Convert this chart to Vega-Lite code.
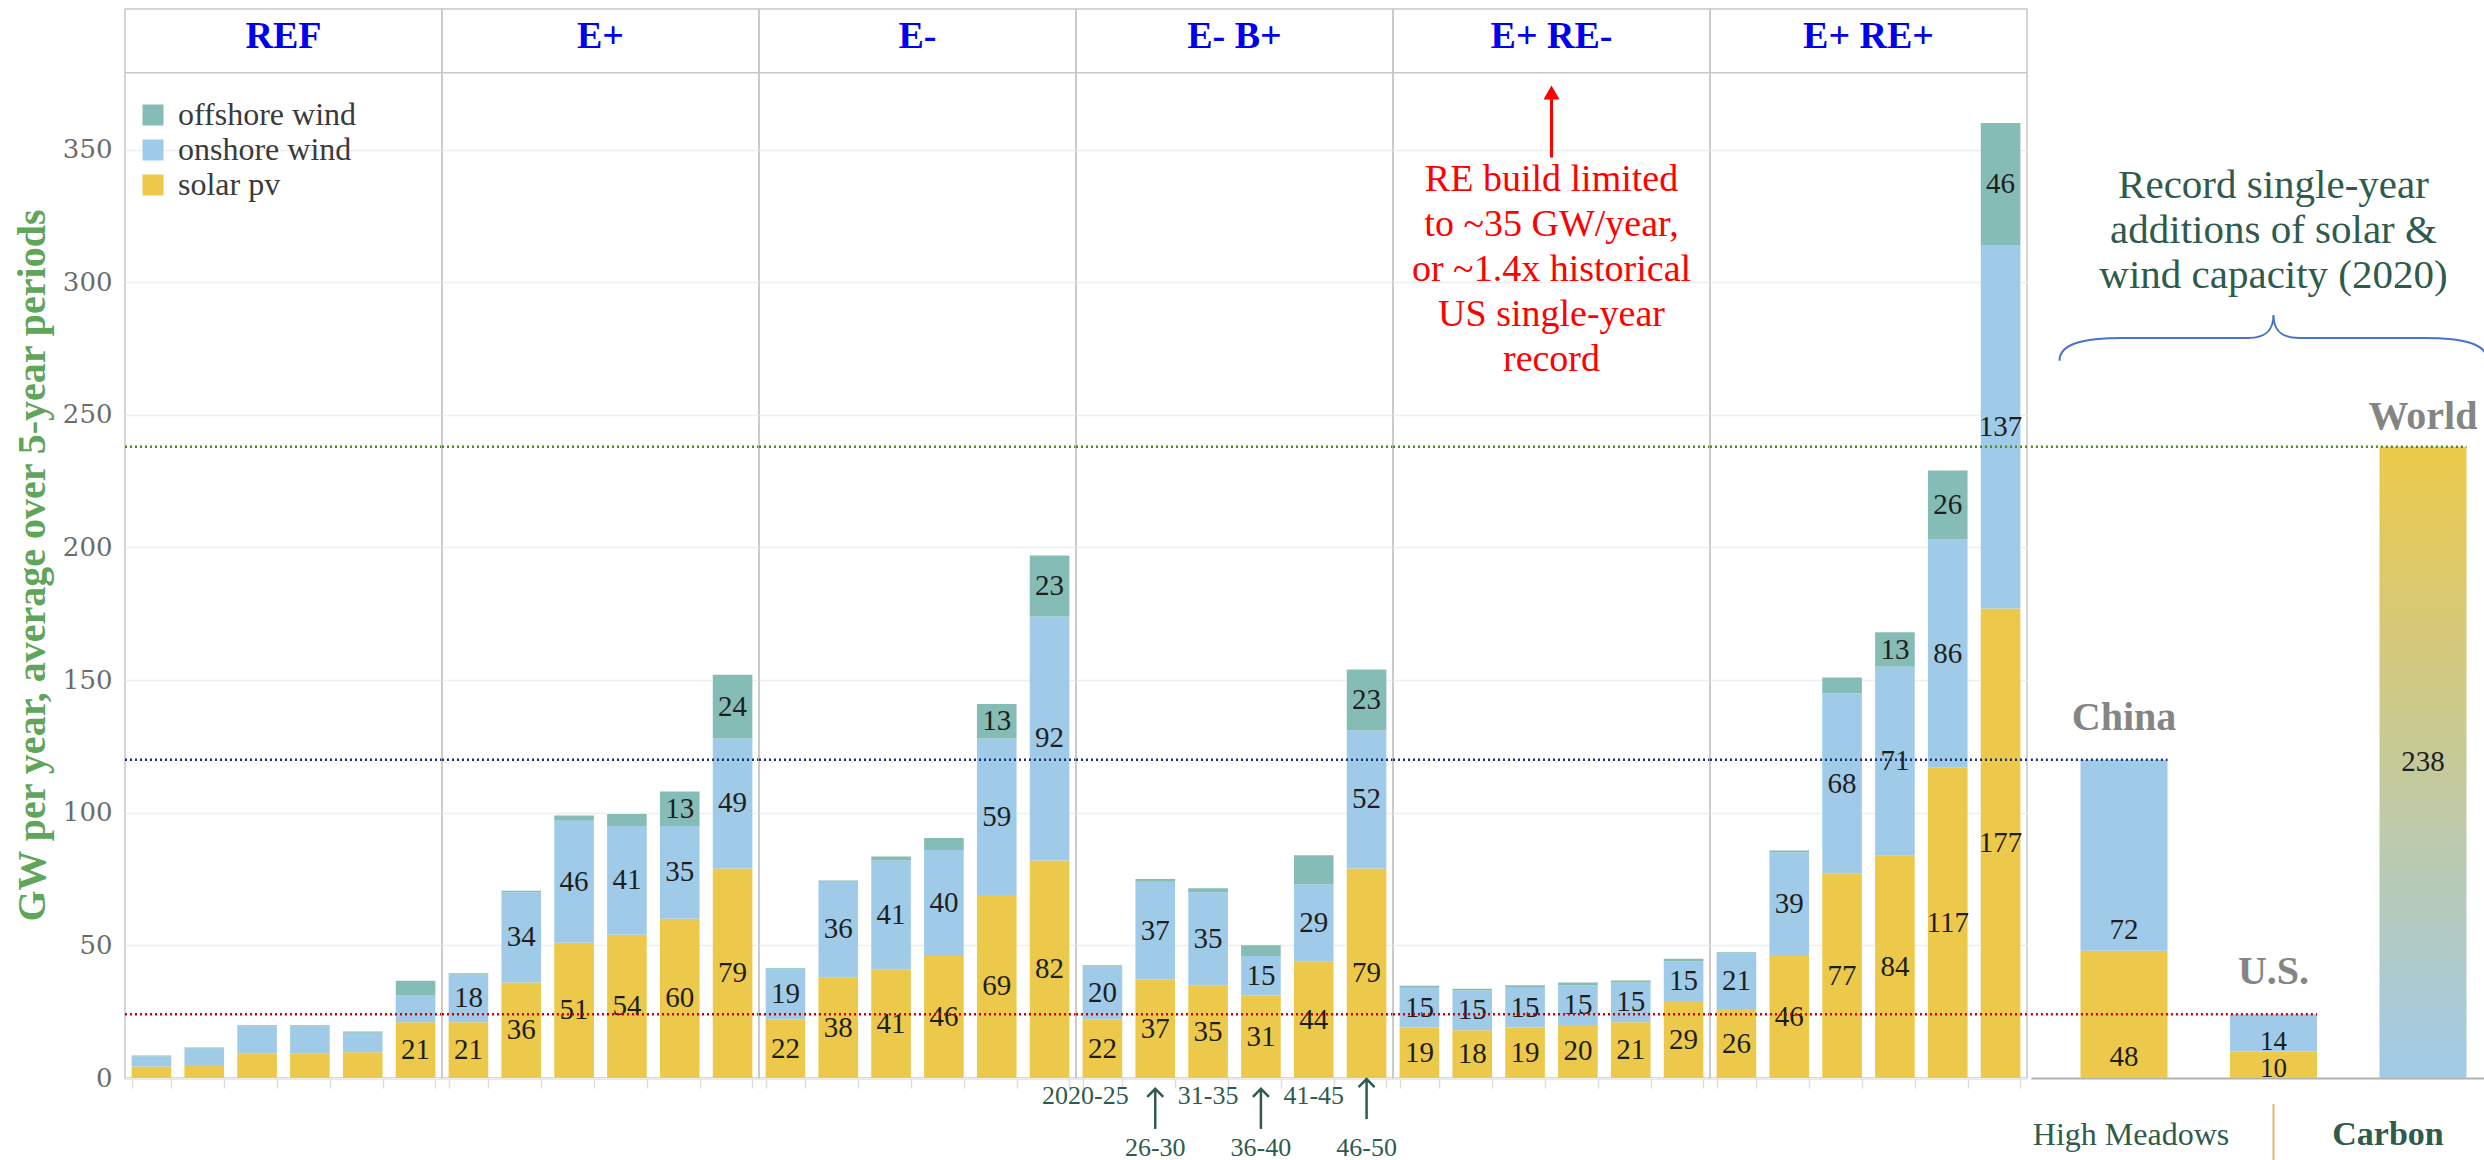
{
  "$schema": "https://vega.github.io/schema/vega-lite/v6.json",
  "padding": {"left": 12, "top": 8, "right": 0, "bottom": 0},
  "background": "white",
  "config": {
    "view": {"stroke": "#c8c8c8", "strokeWidth": 1.5},
    "font": "Liberation Serif",
    "facet": {"spacing": 0},
    "concat": {"spacing": 0}
  },
  "datasets": {
    "bars": [
      {"scenario": "REF", "period": "2020-25", "tech": "solar pv", "value": 4.3},
      {"scenario": "REF", "period": "2020-25", "tech": "onshore wind", "value": 3.9},
      {"scenario": "REF", "period": "2020-25", "tech": "offshore wind", "value": 0.3},
      {"scenario": "REF", "period": "26-30", "tech": "solar pv", "value": 4.9},
      {"scenario": "REF", "period": "26-30", "tech": "onshore wind", "value": 6.2},
      {"scenario": "REF", "period": "26-30", "tech": "offshore wind", "value": 0.4},
      {"scenario": "REF", "period": "31-35", "tech": "solar pv", "value": 9.1},
      {"scenario": "REF", "period": "31-35", "tech": "onshore wind", "value": 10.4},
      {"scenario": "REF", "period": "31-35", "tech": "offshore wind", "value": 0.4},
      {"scenario": "REF", "period": "36-40", "tech": "solar pv", "value": 9.1},
      {"scenario": "REF", "period": "36-40", "tech": "onshore wind", "value": 10.4},
      {"scenario": "REF", "period": "36-40", "tech": "offshore wind", "value": 0.4},
      {"scenario": "REF", "period": "41-45", "tech": "solar pv", "value": 9.7},
      {"scenario": "REF", "period": "41-45", "tech": "onshore wind", "value": 7.4},
      {"scenario": "REF", "period": "41-45", "tech": "offshore wind", "value": 0.4},
      {"scenario": "REF", "period": "46-50", "tech": "solar pv", "value": 21},
      {"scenario": "REF", "period": "46-50", "tech": "onshore wind", "value": 10.3},
      {"scenario": "REF", "period": "46-50", "tech": "offshore wind", "value": 5.4},

      {"scenario": "E+", "period": "2020-25", "tech": "solar pv", "value": 21},
      {"scenario": "E+", "period": "2020-25", "tech": "onshore wind", "value": 18},
      {"scenario": "E+", "period": "2020-25", "tech": "offshore wind", "value": 0.5},
      {"scenario": "E+", "period": "26-30", "tech": "solar pv", "value": 36},
      {"scenario": "E+", "period": "26-30", "tech": "onshore wind", "value": 34},
      {"scenario": "E+", "period": "26-30", "tech": "offshore wind", "value": 0.6},
      {"scenario": "E+", "period": "31-35", "tech": "solar pv", "value": 51},
      {"scenario": "E+", "period": "31-35", "tech": "onshore wind", "value": 46},
      {"scenario": "E+", "period": "31-35", "tech": "offshore wind", "value": 2},
      {"scenario": "E+", "period": "36-40", "tech": "solar pv", "value": 54},
      {"scenario": "E+", "period": "36-40", "tech": "onshore wind", "value": 41},
      {"scenario": "E+", "period": "36-40", "tech": "offshore wind", "value": 4.5},
      {"scenario": "E+", "period": "41-45", "tech": "solar pv", "value": 60},
      {"scenario": "E+", "period": "41-45", "tech": "onshore wind", "value": 35},
      {"scenario": "E+", "period": "41-45", "tech": "offshore wind", "value": 13},
      {"scenario": "E+", "period": "46-50", "tech": "solar pv", "value": 79},
      {"scenario": "E+", "period": "46-50", "tech": "onshore wind", "value": 49},
      {"scenario": "E+", "period": "46-50", "tech": "offshore wind", "value": 24},

      {"scenario": "E-", "period": "2020-25", "tech": "solar pv", "value": 22},
      {"scenario": "E-", "period": "2020-25", "tech": "onshore wind", "value": 19},
      {"scenario": "E-", "period": "2020-25", "tech": "offshore wind", "value": 0.4},
      {"scenario": "E-", "period": "26-30", "tech": "solar pv", "value": 38},
      {"scenario": "E-", "period": "26-30", "tech": "onshore wind", "value": 36},
      {"scenario": "E-", "period": "26-30", "tech": "offshore wind", "value": 0.5},
      {"scenario": "E-", "period": "31-35", "tech": "solar pv", "value": 41},
      {"scenario": "E-", "period": "31-35", "tech": "onshore wind", "value": 41},
      {"scenario": "E-", "period": "31-35", "tech": "offshore wind", "value": 1.5},
      {"scenario": "E-", "period": "36-40", "tech": "solar pv", "value": 46},
      {"scenario": "E-", "period": "36-40", "tech": "onshore wind", "value": 40},
      {"scenario": "E-", "period": "36-40", "tech": "offshore wind", "value": 4.5},
      {"scenario": "E-", "period": "41-45", "tech": "solar pv", "value": 69},
      {"scenario": "E-", "period": "41-45", "tech": "onshore wind", "value": 59},
      {"scenario": "E-", "period": "41-45", "tech": "offshore wind", "value": 13},
      {"scenario": "E-", "period": "46-50", "tech": "solar pv", "value": 82},
      {"scenario": "E-", "period": "46-50", "tech": "onshore wind", "value": 92},
      {"scenario": "E-", "period": "46-50", "tech": "offshore wind", "value": 23},

      {"scenario": "E- B+", "period": "2020-25", "tech": "solar pv", "value": 22},
      {"scenario": "E- B+", "period": "2020-25", "tech": "onshore wind", "value": 20},
      {"scenario": "E- B+", "period": "2020-25", "tech": "offshore wind", "value": 0.5},
      {"scenario": "E- B+", "period": "26-30", "tech": "solar pv", "value": 37},
      {"scenario": "E- B+", "period": "26-30", "tech": "onshore wind", "value": 37},
      {"scenario": "E- B+", "period": "26-30", "tech": "offshore wind", "value": 1},
      {"scenario": "E- B+", "period": "31-35", "tech": "solar pv", "value": 35},
      {"scenario": "E- B+", "period": "31-35", "tech": "onshore wind", "value": 35},
      {"scenario": "E- B+", "period": "31-35", "tech": "offshore wind", "value": 1.5},
      {"scenario": "E- B+", "period": "36-40", "tech": "solar pv", "value": 31},
      {"scenario": "E- B+", "period": "36-40", "tech": "onshore wind", "value": 15},
      {"scenario": "E- B+", "period": "36-40", "tech": "offshore wind", "value": 4},
      {"scenario": "E- B+", "period": "41-45", "tech": "solar pv", "value": 44},
      {"scenario": "E- B+", "period": "41-45", "tech": "onshore wind", "value": 29},
      {"scenario": "E- B+", "period": "41-45", "tech": "offshore wind", "value": 11},
      {"scenario": "E- B+", "period": "46-50", "tech": "solar pv", "value": 79},
      {"scenario": "E- B+", "period": "46-50", "tech": "onshore wind", "value": 52},
      {"scenario": "E- B+", "period": "46-50", "tech": "offshore wind", "value": 23},

      {"scenario": "E+ RE-", "period": "2020-25", "tech": "solar pv", "value": 19},
      {"scenario": "E+ RE-", "period": "2020-25", "tech": "onshore wind", "value": 15},
      {"scenario": "E+ RE-", "period": "2020-25", "tech": "offshore wind", "value": 0.8},
      {"scenario": "E+ RE-", "period": "26-30", "tech": "solar pv", "value": 18},
      {"scenario": "E+ RE-", "period": "26-30", "tech": "onshore wind", "value": 15},
      {"scenario": "E+ RE-", "period": "26-30", "tech": "offshore wind", "value": 0.6},
      {"scenario": "E+ RE-", "period": "31-35", "tech": "solar pv", "value": 19},
      {"scenario": "E+ RE-", "period": "31-35", "tech": "onshore wind", "value": 15},
      {"scenario": "E+ RE-", "period": "31-35", "tech": "offshore wind", "value": 1},
      {"scenario": "E+ RE-", "period": "36-40", "tech": "solar pv", "value": 20},
      {"scenario": "E+ RE-", "period": "36-40", "tech": "onshore wind", "value": 15},
      {"scenario": "E+ RE-", "period": "36-40", "tech": "offshore wind", "value": 1},
      {"scenario": "E+ RE-", "period": "41-45", "tech": "solar pv", "value": 21},
      {"scenario": "E+ RE-", "period": "41-45", "tech": "onshore wind", "value": 15},
      {"scenario": "E+ RE-", "period": "41-45", "tech": "offshore wind", "value": 0.8},
      {"scenario": "E+ RE-", "period": "46-50", "tech": "solar pv", "value": 29},
      {"scenario": "E+ RE-", "period": "46-50", "tech": "onshore wind", "value": 15},
      {"scenario": "E+ RE-", "period": "46-50", "tech": "offshore wind", "value": 1},

      {"scenario": "E+ RE+", "period": "2020-25", "tech": "solar pv", "value": 26},
      {"scenario": "E+ RE+", "period": "2020-25", "tech": "onshore wind", "value": 21},
      {"scenario": "E+ RE+", "period": "2020-25", "tech": "offshore wind", "value": 0.4},
      {"scenario": "E+ RE+", "period": "26-30", "tech": "solar pv", "value": 46},
      {"scenario": "E+ RE+", "period": "26-30", "tech": "onshore wind", "value": 39},
      {"scenario": "E+ RE+", "period": "26-30", "tech": "offshore wind", "value": 0.8},
      {"scenario": "E+ RE+", "period": "31-35", "tech": "solar pv", "value": 77},
      {"scenario": "E+ RE+", "period": "31-35", "tech": "onshore wind", "value": 68},
      {"scenario": "E+ RE+", "period": "31-35", "tech": "offshore wind", "value": 6},
      {"scenario": "E+ RE+", "period": "36-40", "tech": "solar pv", "value": 84},
      {"scenario": "E+ RE+", "period": "36-40", "tech": "onshore wind", "value": 71},
      {"scenario": "E+ RE+", "period": "36-40", "tech": "offshore wind", "value": 13},
      {"scenario": "E+ RE+", "period": "41-45", "tech": "solar pv", "value": 117},
      {"scenario": "E+ RE+", "period": "41-45", "tech": "onshore wind", "value": 86},
      {"scenario": "E+ RE+", "period": "41-45", "tech": "offshore wind", "value": 26},
      {"scenario": "E+ RE+", "period": "46-50", "tech": "solar pv", "value": 177},
      {"scenario": "E+ RE+", "period": "46-50", "tech": "onshore wind", "value": 137},
      {"scenario": "E+ RE+", "period": "46-50", "tech": "offshore wind", "value": 46}
    ],
    "records": [
      {"region": "China", "tech": "solar pv", "value": 48},
      {"region": "China", "tech": "onshore wind", "value": 72},
      {"region": "U.S.", "tech": "solar pv", "value": 10},
      {"region": "U.S.", "tech": "onshore wind", "value": 14},
      {"region": "World", "tech": "solar & wind", "value": 238}
    ],
    "refs": [
      {"region": "China", "total": 120},
      {"region": "U.S.", "total": 24},
      {"region": "World", "total": 238}
    ]
  },
  "hconcat": [
    {
      "data": {"name": "bars"},
      "transform": [
        {"stack": "value", "groupby": ["scenario", "period"], "sort": [{"field": "tech", "order": "descending"}], "as": ["y0", "y1"]},
        {"calculate": "(datum.y0 + datum.y1) / 2", "as": "mid"}
      ],
      "facet": {
        "column": {
          "field": "scenario", "type": "nominal",
          "sort": ["REF", "E+", "E-", "E- B+", "E+ RE-", "E+ RE+"],
          "header": {"labels": false, "title": null}
        }
      },
      "spacing": 0,
      "bounds": "flush",
      "spec": {
        "width": 317,
        "height": 1069,
        "layer": [
          {
            "mark": {"type": "bar"},
            "encoding": {
              "x": {
                "field": "period", "type": "nominal",
                "sort": ["2020-25", "26-30", "31-35", "36-40", "41-45", "46-50"],
                "scale": {"paddingInner": 0.25, "paddingOuter": 0.125},
                "axis": {"title": null, "labels": false, "tickBand": "extent", "tickSize": 10, "tickColor": "#dddddd", "tickWidth": 1.5, "domainColor": "#cccccc", "domainWidth": 2, "grid": false}
              },
              "y": {
                "field": "y0", "type": "quantitative",
                "scale": {"domain": [0, 403], "nice": false},
                "axis": {
                  "values": [0, 50, 100, 150, 200, 250, 300, 350],
                  "title": "GW per year, average over 5-year periods",
                  "titleColor": "#5fa55a", "titleFont": "Liberation Serif", "titleFontSize": 40, "titleFontWeight": "bold", "titlePadding": 10, "titleY": 556,
                  "labelFont": "DejaVu Serif", "labelFontSize": 26, "labelColor": "#6b6b6b", "labelPadding": 13,
                  "ticks": false, "domain": false, "grid": true, "gridColor": "#eeeeee", "gridWidth": 1.5
                }
              },
              "y2": {"field": "y1"},
              "color": {
                "field": "tech", "type": "nominal",
                "scale": {"domain": ["offshore wind", "onshore wind", "solar pv"], "range": ["#86bcb6", "#a0cbe8", "#ecc94a"]},
                "legend": {
                  "orient": "none", "legendX": 12, "legendY": 90, "title": null, "padding": 0,
                  "symbolType": "square", "symbolSize": 441, "symbolStrokeWidth": 0,
                  "labelFont": "Liberation Serif", "labelFontSize": 32, "labelColor": "#3a3a3a", "labelOffset": 9, "labelLimit": 0, "rowPadding": 3
                }
              }
            }
          },
          {
            "transform": [{"filter": "datum.value >= 12.5"}],
            "mark": {"type": "text", "font": "Liberation Serif", "fontSize": 29, "color": "#1e1e1e", "baseline": "middle"},
            "encoding": {
              "x": {"field": "period", "type": "nominal", "sort": ["2020-25", "26-30", "31-35", "36-40", "41-45", "46-50"]},
              "y": {"field": "mid", "type": "quantitative"},
              "text": {"field": "value", "type": "quantitative", "format": "d"}
            }
          },
          {
            "transform": [{"filter": "datum.period == '36-40' && datum.tech == 'solar pv'"}],
            "mark": {"type": "text", "font": "Liberation Serif", "fontSize": 38, "fontWeight": "bold", "color": "#0000ee", "baseline": "middle"},
            "encoding": {
              "x": {"field": "period", "type": "nominal", "sort": ["2020-25", "26-30", "31-35", "36-40", "41-45", "46-50"], "bandPosition": -0.1667},
              "y": {"datum": 392.5},
              "text": {"field": "scenario", "type": "nominal"}
            }
          },
          {
            "transform": [{"filter": "datum.period == '36-40' && datum.tech == 'solar pv'"}],
            "mark": {"type": "rule", "color": "#c8c8c8", "strokeWidth": 1.5},
            "encoding": {"y": {"datum": 379}}
          },
          {
            "transform": [{"filter": "datum.period == '36-40' && datum.tech == 'solar pv'"}],
            "mark": {"type": "rule", "color": "#d40000", "strokeWidth": 2.5, "strokeDash": [2, 3]},
            "encoding": {"y": {"datum": 24}}
          },
          {
            "transform": [{"filter": "datum.period == '36-40' && datum.tech == 'solar pv'"}],
            "mark": {"type": "rule", "color": "#1b2f6e", "strokeWidth": 2.5, "strokeDash": [2, 3]},
            "encoding": {"y": {"datum": 120}}
          },
          {
            "transform": [{"filter": "datum.period == '36-40' && datum.tech == 'solar pv'"}],
            "mark": {"type": "rule", "color": "#4e8a22", "strokeWidth": 2.5, "strokeDash": [2, 3]},
            "encoding": {"y": {"datum": 238}}
          },
          {
            "transform": [{"filter": "datum.scenario == 'E+ RE-' && datum.period == '36-40' && datum.tech == 'solar pv'"}],
            "mark": {"type": "text", "font": "Liberation Serif", "fontSize": 38, "lineHeight": 45, "color": "#ff0000", "baseline": "middle"},
            "encoding": {
              "x": {"field": "period", "type": "nominal", "sort": ["2020-25", "26-30", "31-35", "36-40", "41-45", "46-50"], "bandPosition": -0.1667},
              "y": {"datum": 338.5},
              "text": {"value": ["RE build limited", "to ~35 GW/year,", "or ~1.4x historical", "US single-year", "record"]}
            }
          },
          {
            "transform": [{"filter": "datum.scenario == 'E+ RE-' && datum.period == '36-40' && datum.tech == 'solar pv'"}],
            "mark": {"type": "rule", "color": "#ff0000", "strokeWidth": 3},
            "encoding": {
              "x": {"field": "period", "type": "nominal", "sort": ["2020-25", "26-30", "31-35", "36-40", "41-45", "46-50"], "bandPosition": -0.1667},
              "y": {"datum": 347},
              "y2": {"datum": 369}
            }
          },
          {
            "transform": [{"filter": "datum.scenario == 'E+ RE-' && datum.period == '36-40' && datum.tech == 'solar pv'"}],
            "mark": {"type": "point", "shape": "triangle-up", "filled": true, "color": "#ff0000", "size": 260, "opacity": 1},
            "encoding": {
              "x": {"field": "period", "type": "nominal", "sort": ["2020-25", "26-30", "31-35", "36-40", "41-45", "46-50"], "bandPosition": -0.1667},
              "y": {"datum": 371.5}
            }
          },
          {
            "transform": [{"filter": "datum.scenario == 'E- B+' && datum.tech == 'solar pv' && (datum.period == '31-35' || datum.period == '41-45')"}],
            "mark": {"type": "text", "font": "Liberation Serif", "fontSize": 26, "color": "#2f5b4d", "baseline": "middle"},
            "encoding": {
              "x": {"field": "period", "type": "nominal", "sort": ["2020-25", "26-30", "31-35", "36-40", "41-45", "46-50"]},
              "y": {"datum": -6.8},
              "text": {"field": "period", "type": "nominal"}
            }
          },
          {
            "transform": [{"filter": "datum.scenario == 'E- B+' && datum.tech == 'solar pv' && datum.period == '2020-25'"}],
            "mark": {"type": "text", "font": "Liberation Serif", "fontSize": 26, "color": "#2f5b4d", "baseline": "middle", "dx": -17},
            "encoding": {
              "x": {"field": "period", "type": "nominal", "sort": ["2020-25", "26-30", "31-35", "36-40", "41-45", "46-50"]},
              "y": {"datum": -6.8},
              "text": {"field": "period", "type": "nominal"}
            }
          },
          {
            "transform": [{"filter": "datum.scenario == 'E- B+' && datum.tech == 'solar pv' && (datum.period == '26-30' || datum.period == '36-40' || datum.period == '46-50')"}],
            "mark": {"type": "text", "font": "Liberation Serif", "fontSize": 26, "color": "#2f5b4d", "baseline": "middle"},
            "encoding": {
              "x": {"field": "period", "type": "nominal", "sort": ["2020-25", "26-30", "31-35", "36-40", "41-45", "46-50"]},
              "y": {"datum": -26.4},
              "text": {"field": "period", "type": "nominal"}
            }
          },
          {
            "transform": [{"filter": "datum.scenario == 'E- B+' && datum.tech == 'solar pv' && (datum.period == '26-30' || datum.period == '36-40')"}],
            "mark": {"type": "rule", "color": "#2f5b4d", "strokeWidth": 2.5},
            "encoding": {
              "x": {"field": "period", "type": "nominal", "sort": ["2020-25", "26-30", "31-35", "36-40", "41-45", "46-50"]},
              "y": {"datum": -4.3},
              "y2": {"datum": -19.2}
            }
          },
          {
            "transform": [{"filter": "datum.scenario == 'E- B+' && datum.tech == 'solar pv' && (datum.period == '26-30' || datum.period == '36-40')"}],
            "mark": {"type": "point", "shape": "M -1 1 L 0 0 L 1 1", "filled": false, "color": "#2f5b4d", "strokeWidth": 2.5, "size": 256, "opacity": 1},
            "encoding": {
              "x": {"field": "period", "type": "nominal", "sort": ["2020-25", "26-30", "31-35", "36-40", "41-45", "46-50"]},
              "y": {"datum": -4.1}
            }
          },
          {
            "transform": [{"filter": "datum.scenario == 'E- B+' && datum.tech == 'solar pv' && datum.period == '46-50'"}],
            "mark": {"type": "rule", "color": "#2f5b4d", "strokeWidth": 2.5},
            "encoding": {
              "x": {"field": "period", "type": "nominal", "sort": ["2020-25", "26-30", "31-35", "36-40", "41-45", "46-50"]},
              "y": {"datum": -0.6},
              "y2": {"datum": -15.5}
            }
          },
          {
            "transform": [{"filter": "datum.scenario == 'E- B+' && datum.tech == 'solar pv' && datum.period == '46-50'"}],
            "mark": {"type": "point", "shape": "M -1 1 L 0 0 L 1 1", "filled": false, "color": "#2f5b4d", "strokeWidth": 2.5, "size": 256, "opacity": 1},
            "encoding": {
              "x": {"field": "period", "type": "nominal", "sort": ["2020-25", "26-30", "31-35", "36-40", "41-45", "46-50"]},
              "y": {"datum": -0.4}
            }
          }
        ]
      }
    },
    {
      "data": {"name": "records"},
      "transform": [
        {"stack": "value", "groupby": ["region"], "sort": [{"field": "tech", "order": "descending"}], "as": ["y0", "y1"]},
        {"calculate": "(datum.y0 + datum.y1) / 2", "as": "mid"}
      ],
      "width": 457,
      "height": 1069,
      "view": {"stroke": null},
      "encoding": {
        "x": {
          "field": "region", "type": "nominal", "sort": ["China", "U.S.", "World"],
          "scale": {"paddingInner": 0.418, "paddingOuter": 0.2375, "align": 0.697},
          "axis": {"title": null, "labels": false, "ticks": false, "domainColor": "#b0b0b0", "domainWidth": 2, "grid": false}
        }
      },
      "layer": [
        {
          "transform": [{"filter": "datum.tech == 'solar pv'"}],
          "mark": {"type": "bar", "color": "#ecc94a"},
          "encoding": {
            "y": {"field": "y0", "type": "quantitative", "scale": {"domain": [0, 403], "nice": false}, "axis": null},
            "y2": {"field": "y1"}
          }
        },
        {
          "transform": [{"filter": "datum.tech == 'onshore wind'"}],
          "mark": {"type": "bar", "color": "#a0cbe8"},
          "encoding": {
            "y": {"field": "y0", "type": "quantitative"},
            "y2": {"field": "y1"}
          }
        },
        {
          "transform": [{"filter": "datum.region == 'World'"}],
          "mark": {
            "type": "bar",
            "color": {"gradient": "linear", "x1": 0, "y1": 0, "x2": 0, "y2": 1, "stops": [{"offset": 0, "color": "#ecc94a"}, {"offset": 1, "color": "#a0cbe8"}]}
          },
          "encoding": {
            "y": {"field": "y0", "type": "quantitative"},
            "y2": {"field": "y1"}
          }
        },
        {
          "transform": [{"filter": "datum.region == 'China'"}],
          "mark": {"type": "text", "font": "Liberation Serif", "fontSize": 29, "color": "#1e1e1e", "baseline": "alphabetic", "dy": -12},
          "encoding": {
            "y": {"field": "y0", "type": "quantitative"},
            "text": {"field": "value", "type": "quantitative", "format": "d"}
          }
        },
        {
          "transform": [{"filter": "datum.region == 'U.S.'"}],
          "mark": {"type": "text", "font": "Liberation Serif", "fontSize": 27, "color": "#1e1e1e", "baseline": "alphabetic", "dy": -1},
          "encoding": {
            "y": {"field": "y0", "type": "quantitative"},
            "text": {"field": "value", "type": "quantitative", "format": "d"}
          }
        },
        {
          "transform": [{"filter": "datum.region == 'World'"}],
          "mark": {"type": "text", "font": "Liberation Serif", "fontSize": 29, "color": "#1e1e1e", "baseline": "middle"},
          "encoding": {
            "y": {"field": "mid", "type": "quantitative"},
            "text": {"field": "value", "type": "quantitative", "format": "d"}
          }
        },
        {
          "data": {"name": "refs"},
          "mark": {"type": "rule", "strokeWidth": 2.5, "strokeDash": [2, 3]},
          "encoding": {
            "x": {"datum": "China", "type": "nominal", "bandPosition": -0.57},
            "x2": {"field": "region", "bandPosition": 1},
            "y": {"field": "total", "type": "quantitative"},
            "stroke": {"field": "region", "type": "nominal", "scale": {"domain": ["China", "U.S.", "World"], "range": ["#1b2f6e", "#d40000", "#4e8a22"]}, "legend": null}
          }
        },
        {
          "data": {"name": "refs"},
          "transform": [{"filter": "datum.region != 'World'"}],
          "mark": {"type": "text", "font": "Liberation Serif", "fontSize": 40, "fontWeight": "bold", "color": "#858585", "baseline": "alphabetic", "dy": -30},
          "encoding": {
            "x": {"field": "region", "type": "nominal", "sort": ["China", "U.S.", "World"]},
            "y": {"field": "total", "type": "quantitative"},
            "text": {"field": "region", "type": "nominal"}
          }
        },
        {
          "data": {"name": "refs"},
          "transform": [{"filter": "datum.region == 'World'"}],
          "mark": {"type": "text", "font": "Liberation Serif", "fontSize": 40, "fontWeight": "bold", "color": "#858585", "baseline": "alphabetic", "dy": -18},
          "encoding": {
            "x": {"field": "region", "type": "nominal", "sort": ["China", "U.S.", "World"]},
            "y": {"field": "total", "type": "quantitative"},
            "text": {"field": "region", "type": "nominal"}
          }
        },
        {
          "transform": [{"filter": "datum.region == 'U.S.' && datum.tech == 'solar pv'"}],
          "mark": {"type": "text", "font": "Liberation Serif", "fontSize": 41, "lineHeight": 45, "color": "#2f5b4d", "baseline": "middle"},
          "encoding": {
            "y": {"datum": 336.3},
            "text": {"value": ["Record single-year", "additions of solar &", "wind capacity (2020)"]}
          }
        },
        {
          "transform": [{"filter": "datum.region == 'U.S.' && datum.tech == 'solar pv'"}],
          "mark": {"type": "point", "shape": "M -1 0.107 C -1 0.03 -0.9 0 -0.7 0 L -0.12 0 C -0.03 0 0 -0.04 0 -0.107 C 0 -0.04 0.03 0 0.12 0 L 0.7 0 C 0.9 0 1 0.03 1 0.107", "filled": false, "color": "#4a74c9", "strokeWidth": 2, "size": 183184, "opacity": 1},
          "encoding": {
            "y": {"datum": 279}
          }
        },
        {
          "transform": [{"filter": "datum.region == 'China' && datum.tech == 'solar pv'"}],
          "mark": {"type": "text", "font": "Liberation Serif", "fontSize": 32, "color": "#2f5b4d", "baseline": "middle", "align": "left", "dx": 1},
          "encoding": {
            "x": {"datum": "China", "type": "nominal", "bandPosition": -0.56},
            "y": {"datum": -21.5},
            "text": {"value": "High Meadows"}
          }
        },
        {
          "transform": [{"filter": "datum.region == 'U.S.' && datum.tech == 'solar pv'"}],
          "mark": {"type": "rule", "color": "#e8b070", "strokeWidth": 2},
          "encoding": {
            "y": {"datum": -9.8},
            "y2": {"datum": -32}
          }
        },
        {
          "data": {"name": "refs"},
          "transform": [{"filter": "datum.region == 'World'"}],
          "mark": {"type": "text", "font": "Liberation Serif", "fontSize": 34, "fontWeight": "bold", "color": "#2f5b4d", "baseline": "middle", "dx": -35},
          "encoding": {
            "x": {"field": "region", "type": "nominal", "sort": ["China", "U.S.", "World"]},
            "y": {"datum": -21.5},
            "text": {"value": "Carbon"}
          }
        }
      ]
    }
  ]
}
